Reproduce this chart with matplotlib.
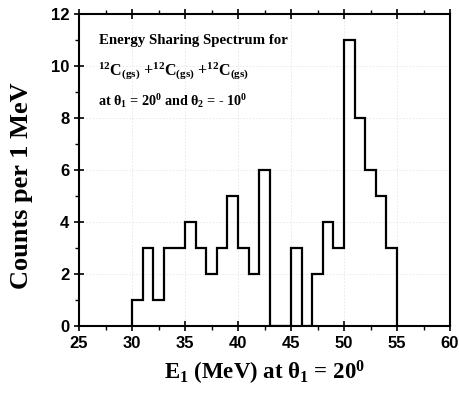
import matplotlib
matplotlib.use("Agg")
import matplotlib.pyplot as plt
from matplotlib.ticker import MultipleLocator
import numpy as np

# Data: counts per 1 MeV bin, bins from 30 to 55 MeV
bin_edges = list(range(30, 56))
counts = [1, 3, 1, 3, 3, 4, 3, 2, 3, 5, 3, 2, 6, 0, 0, 3, 0, 2, 4, 3, 11, 8, 6, 5, 3]
x_ticks = [25, 30, 35, 40, 45, 50, 55, 60]
y_ticks = [0, 2, 4, 6, 8, 10, 12]

plt.rcParams['mathtext.fontset'] = 'custom'
plt.rcParams['mathtext.rm'] = 'Liberation Serif:bold'
plt.rcParams['mathtext.it'] = 'Liberation Serif:bold'
plt.rcParams['mathtext.bf'] = 'Liberation Serif:bold'

fig = plt.figure(figsize=(4.59, 3.94), dpi=100)
ax = fig.add_axes([79/459, 1-326/394, (450-79)/459, (326-14)/394])

ax.stairs(counts, bin_edges, baseline=0, color='black', linewidth=1.6)

ax.set_xlim(25, 60)
ax.set_ylim(0, 12)
ax.set_xticks(x_ticks)
ax.set_yticks(y_ticks)
ax.xaxis.set_minor_locator(MultipleLocator(2.5))
ax.yaxis.set_minor_locator(MultipleLocator(1))
ax.grid(True, which='major', color='#e6e6e6', linestyle=(0, (2, 2)), linewidth=0.6)
ax.set_axisbelow(True)

for s in ax.spines.values():
    s.set_linewidth(1.5)

ax.tick_params(which='major', direction='inout', length=7, width=1.2,
               top=True, right=False, labelsize=12)
ax.tick_params(which='minor', direction='out', length=3, width=1.0,
               top=True, right=False)
for lab in ax.get_xticklabels() + ax.get_yticklabels():
    lab.set_fontfamily('Liberation Sans')
    lab.set_fontweight('bold')

ax.set_xlabel(r'E$_1$ (MeV) at $\theta_1$ = 20$^0$', fontfamily='Liberation Serif',
              fontweight='bold', fontsize=16.5, labelpad=6)
ax.set_ylabel('Counts per 1 MeV', fontfamily='Liberation Serif',
              fontweight='bold', fontsize=19)
ax.yaxis.set_label_coords(-0.125, 0.45)

tkw = dict(fontfamily='Liberation Serif', fontweight='bold',
           transform=ax.transAxes, ha='left', va='center')
ax.text(0.055, 0.915, 'Energy Sharing Spectrum for', fontsize=10.7, **tkw)
ax.text(0.052, 0.815, r'$^{12}$C$_{(gs)}$ +$^{12}$C$_{(gs)}$ +$^{12}$C$_{(gs)}$',
        fontsize=11.5, **tkw)
ax.text(0.052, 0.72, r'at $\theta_1$ = 20$^0$ and $\theta_2$ = - 10$^0$', fontsize=10.2, **tkw)

fig.savefig('out.png', dpi=100)
